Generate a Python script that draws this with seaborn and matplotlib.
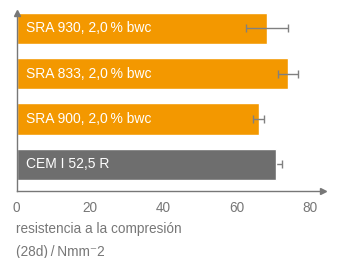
import matplotlib
matplotlib.use("Agg")
import matplotlib.pyplot as plt
import seaborn as sns
import pandas as pd

categories = ["SRA 930, 2,0\u2009% bwc", "SRA 833, 2,0\u2009% bwc", "SRA 900, 2,0\u2009% bwc", "CEM I 52,5 R"]
values = [68.2, 73.9, 66.0, 70.6]
errors = [5.7, 2.7, 1.5, 1.7]
colors = ["#F39800", "#F39800", "#F39800", "#6E6E6E"]
xticks = [0, 20, 40, 60, 80]
xlabel = "resistencia a la compresión\n(28d)\u2009/\u2009Nmm\u207b2"

sns.set_theme(style="white")
plt.rcParams['font.family'] = ['Liberation Sans', 'DejaVu Sans']

df = pd.DataFrame({"cat": categories, "val": values})
fig = plt.figure(figsize=(3.37, 2.58), dpi=100)
ax = fig.add_axes([16.5/337, 1 - 191/258, (323-16.5)/337, (191-13)/258])
sns.barplot(data=df, y="cat", x="val", hue="cat", palette=colors, legend=False,
            orient="h", width=0.69, saturation=1, ax=ax, errorbar=None)
for i, (v, e, c) in enumerate(zip(values, errors, colors)):
    z = 5 if c == "#F39800" else 0.5
    ax.errorbar([v], [i], xerr=[e], fmt="none", ecolor="#808080",
                elinewidth=1.0, capsize=3, capthick=1.0, zorder=z)
for i, c in enumerate(categories):
    ax.text(2.6, i, c, color="white", va="center", ha="left", fontsize=10)

ax.set_xlim(0, 83.5)
ax.set_ylim(3.59, -0.34)
ax.set_yticks([])
ax.set_ylabel("")
ax.set_xticks(xticks)
ax.set_xticklabels([str(t) for t in xticks], color="#777777", fontsize=9.8)
ax.tick_params(axis="x", length=2.5, width=0.8, color="#777777", direction="out", pad=5)
ax.set_xlabel(xlabel, color="#777777", fontsize=9.8, loc="left", linespacing=1.75, labelpad=5)
for s in ["top", "right"]:
    ax.spines[s].set_visible(False)
for s in ["left", "bottom"]:
    ax.spines[s].set_color("#777777")
    ax.spines[s].set_linewidth(1.0)
ax.plot(1, 0, ">", color="#777777", markersize=5, transform=ax.transAxes, clip_on=False)
ax.plot(0, 1, "^", color="#777777", markersize=5, transform=ax.transAxes, clip_on=False)
fig.savefig("out.png", dpi=100)
